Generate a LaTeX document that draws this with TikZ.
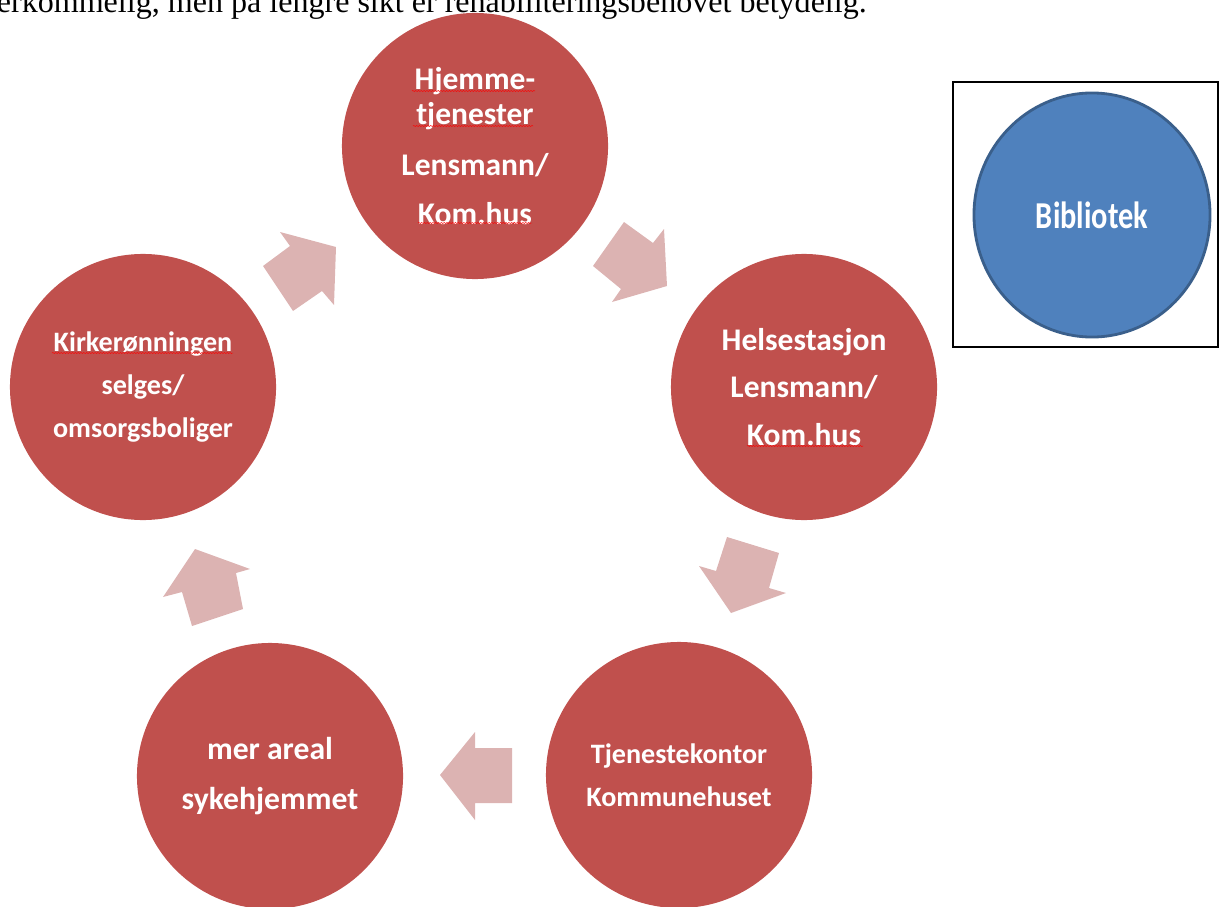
\documentclass[tikz,border=0pt]{standalone}
\usepackage{fontspec}
\setmainfont{Carlito}
\newfontfamily\bodyfont{Liberation Serif}
\usetikzlibrary{shapes.geometric}
\usetikzlibrary{decorations.pathmorphing}

\definecolor{stagered}{HTML}{C0504D}
\definecolor{arrowpink}{HTML}{DCB3B2}
\definecolor{libblue}{HTML}{4F81BD}
\definecolor{libedge}{HTML}{3A5F8B}

\begin{document}
\begin{tikzpicture}[x=0.025cm, y=-0.025cm,
    stage/.style={circle, fill=stagered, text=white, minimum size=6.65cm, inner sep=0pt, align=center},
    cyclearrow/.style={fill=arrowpink},
    spellmark/.style={red, line width=0.35pt, decorate, decoration={snake, amplitude=0.35pt, segment length=2pt}}]
    \useasboundingbox (0,0) rectangle (1220,906);
    \clip (0,0) rectangle (1220,906);

    \node[anchor=base east, inner sep=0pt, font=\bodyfont\fontsize{22.8}{26}\selectfont] (intro) at (867,13) {overkommelig, men på lengre sikt er rehabiliteringsbehovet betydelig.};

    \node[stage, font=\bfseries\fontsize{22.4}{25}\selectfont] (hjemme) at (475,146) {Hjemme-\\tjenester\\[11pt]Lensmann/\\[10pt]Kom.hus};
    \node[stage, font=\bfseries\fontsize{22.4}{34}\selectfont] (helse) at (804,387) {Helsestasjon\\Lensmann/\\Kom.hus};
    \node[stage, font=\bfseries\fontsize{20}{30.5}\selectfont] (tjeneste) at (679,775) {Tjenestekontor\\Kommunehuset};
    \node[stage, font=\bfseries\fontsize{22.5}{35}\selectfont] (areal) at (270,776) {mer areal\\sykehjemmet};
    \node[stage, font=\bfseries\fontsize{20}{30.5}\selectfont] (kirke) at (143,387) {Kirkerønningen\\selges/\\omsorgsboliger};

    \fill[cyclearrow] (280,232) -- (336,247) -- (334,305) -- (322,291) -- (293,311) -- (263,266) -- (290,246) -- cycle;
    \fill[cyclearrow] (624,222) -- (653,243) -- (664,229) -- (667,286) -- (612,302) -- (621,289) -- (593,266) -- cycle;
    \fill[cyclearrow] (727,537) -- (779,553) -- (769,588) -- (786,593) -- (731,613) -- (699,566) -- (716,571) -- cycle;
    \fill[cyclearrow] (440,775) -- (475,732) -- (475,748) -- (512,748) -- (512,803) -- (475,803) -- (475,820) -- cycle;
    \fill[cyclearrow] (195,549) -- (250,569) -- (236,573) -- (243,609) -- (192,626) -- (182,592) -- (163,597) -- cycle;

    \draw[spellmark] (412,91) -- (535,91);
    \draw[spellmark] (413,126) -- (533,126);
    \draw[spellmark] (418,223) -- (532,223);
    \draw[spellmark] (747,446) -- (863,446);
    \draw[spellmark] (52,353) -- (233,353);

    \node[draw, line width=1.4pt, minimum size=6.625cm, inner sep=0pt] (libbox) at (1085.5,214.5) {};
    \node[ellipse, draw=libedge, line width=2pt, fill=libblue, text=white, minimum width=5.9cm, minimum height=6.1cm, font=\bfseries\fontsize{27}{30}\selectfont] (bibliotek) at (1092,215) {\scalebox{0.8}[1]{Bibliotek}};
\end{tikzpicture}
\end{document}
